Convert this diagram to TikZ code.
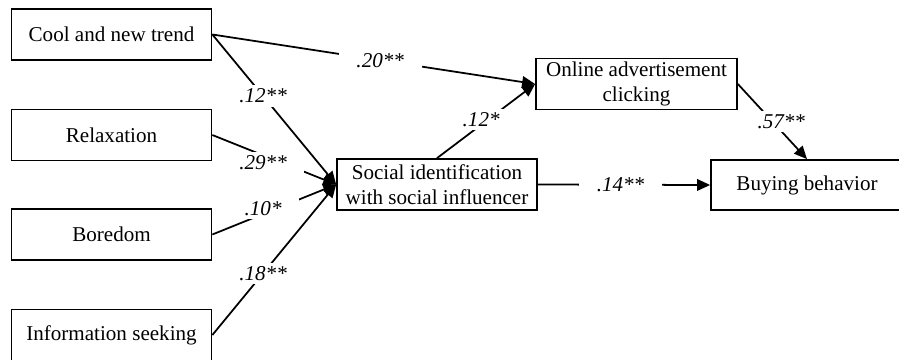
\documentclass[tikz,border=0pt]{standalone}
\usepackage{fontspec}
\setmainfont{Liberation Serif}
\usepackage{tikz}
\usetikzlibrary{arrows.meta, positioning}
\tikzset{
	varbox/.style={rectangle, draw=black, line width=1pt, minimum width=4cm, minimum height=1.02cm, text centered, align=center, inner sep=2pt},
	coef/.style={fill=white, inner xsep=10pt, inner ysep=2pt, font=\fontsize{12}{14.2}\selectfont\itshape},
	patharrow/.style={-{Triangle[length=2.6mm, width=2.3mm]}, line width=1pt},
}

\begin{document}
\begin{tikzpicture}[x=0.02cm, y=-0.02cm, font=\fontsize{12}{14.2}\selectfont]
	\useasboundingbox (0,0) rectangle (899,359);
	% predictors
	\node[varbox] (cool)  at (111.5,34.5) {Cool and new trend};
	\node[varbox] (relax) at (111.5,135)  {Relaxation};
	\node[varbox] (bored) at (111.5,234.5) {Boredom};
	\node[varbox] (info)  at (111.5,335)  {Information seeking};
	% mediators and outcome
	\node[varbox] (social) at (437,184.5) {Social identification\\with social influencer};
	\node[varbox, minimum width=4.02cm, minimum height=1cm] (online) at (636.5,84) {Online advertisement\\clicking};
	\node[varbox, minimum width=3.84cm, minimum height=1cm] (buying) at (807,185) {Buying behavior};

	\draw[patharrow] (cool.east) -- node[coef, pos=0.52] {.20**} (online.west);
	\draw[patharrow] (cool.east) -- node[coef, pos=0.41] {.12**} (social.west);
	\draw[patharrow] (relax.east) -- node[coef, pos=0.41, yshift=-4pt] {.29**} (social.west);
	\draw[patharrow] (bored.east) -- node[coef, pos=0.41, yshift=3pt] {.10*} (social.west);
	\draw[patharrow] (info.east) -- node[coef, pos=0.41] {.18**} (social.west);
	\draw[patharrow] (social.north) -- node[coef, pos=0.45, yshift=3pt] {.12*} (online.west);
	\draw[patharrow] (online.east) -- node[coef, pos=0.5, xshift=5pt] {.57**} (buying.north);
	\draw[patharrow] (social.east) -- node[coef, pos=0.48] {.14**} (buying.west);
\end{tikzpicture}
\end{document}
